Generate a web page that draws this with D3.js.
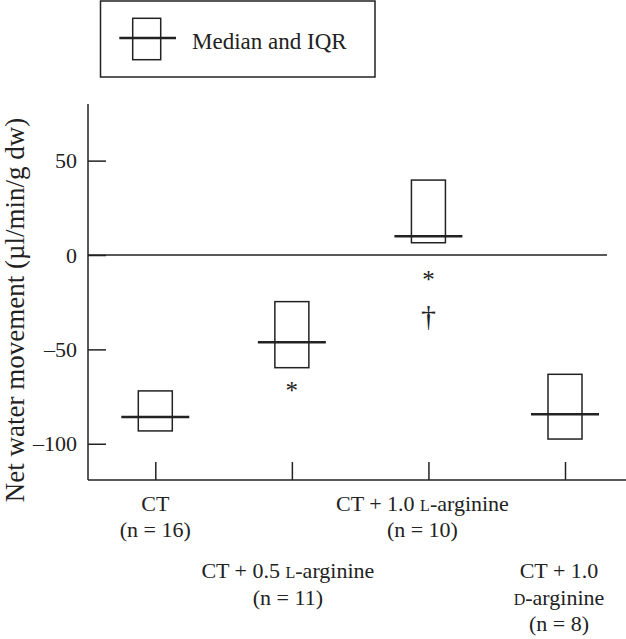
<!DOCTYPE html>
<html>
<head>
<meta charset="utf-8">
<script src="https://cdn.jsdelivr.net/npm/d3@7"></script>
<style>
  html, body { margin: 0; padding: 0; background: #fff; }
  svg, svg text, svg tspan { font-family: "Liberation Serif", "Times New Roman", serif; }
</style>
</head>
<body>
<div id="chart"></div>
<script>
// ---- data ----
const categories = ["CT", "CT + 0.5 L-arginine", "CT + 1.0 L-arginine", "CT + 1.0 D-arginine"];
const medians = [-85.8, -46.2, 9.9, -84.4];
const q1 = [-93.2, -59.7, 6.5, -97.5];
const q3 = [-72.0, -24.7, 39.7, -63.2];
const nValues = [16, 11, 10, 8];
const yTicks = [-100, -50, 0, 50];
const annotations = [
  { cat: 1, symbol: "*", value: -68.3 },
  { cat: 2, symbol: "*", value: -9.5 },
  { cat: 2, symbol: "\u2020", value: -33 }
];
const legendLabel = "Median and IQR";
const yLabel = "Net water movement (\u00b5l/min/g dw)";

// ---- layout ----
const W = 626, H = 639;
const FONT = "Liberation Serif, Times New Roman, serif";
const svg = d3.select("#chart").append("svg").attr("width", W).attr("height", H)
  .attr("font-family", FONT);
const ink = "#222";

const y = d3.scaleLinear().domain([-119.2, 80]).range([480, 104]);
const x = d3.scalePoint().domain(categories).range([155.3, 565]);
const axisX0 = 88;

// y axis
const yAxis = d3.axisRight(y).tickValues(yTicks).tickSize(18).tickFormat("");
const gy = svg.append("g").attr("transform", `translate(${axisX0},0)`).call(yAxis);
gy.select(".domain").remove();
gy.selectAll(".tick line").attr("stroke", ink).attr("stroke-width", 1.5);
svg.append("line").attr("x1", axisX0).attr("x2", axisX0).attr("y1", y.range()[1]).attr("y2", y.range()[0])
  .attr("stroke", ink).attr("stroke-width", 1.5);
svg.selectAll("text.ylab").data(yTicks).join("text").attr("class", "ylab")
  .attr("font-family", FONT)
  .attr("x", 77).attr("y", d => y(d)).attr("dy", "0.35em")
  .attr("text-anchor", "end").attr("font-size", 22).attr("fill", ink)
  .text(d => d < 0 ? "\u2013" + Math.abs(d) : String(d));

// x axis
const xAxis = d3.axisTop(x).tickSize(18).tickFormat("");
const gx = svg.append("g").attr("transform", `translate(0,${y.range()[0]})`).call(xAxis);
gx.select(".domain").remove();
gx.selectAll(".tick line").attr("stroke", ink).attr("stroke-width", 1.5);
svg.append("line").attr("x1", axisX0).attr("x2", W).attr("y1", y.range()[0]).attr("y2", y.range()[0])
  .attr("stroke", ink).attr("stroke-width", 1.5);

// zero line
svg.append("line").attr("x1", axisX0).attr("x2", 607).attr("y1", y(0)).attr("y2", y(0))
  .attr("stroke", ink).attr("stroke-width", 1.5);

// boxes
const boxW = 34, medW = 68;
const data = categories.map((c, i) => ({ c, med: medians[i], lo: q1[i], hi: q3[i] }));
svg.selectAll("rect.box").data(data).join("rect").attr("class", "box")
  .attr("x", d => x(d.c) - boxW / 2).attr("width", boxW)
  .attr("y", d => y(d.hi)).attr("height", d => y(d.lo) - y(d.hi))
  .attr("fill", "none").attr("stroke", ink).attr("stroke-width", 1.5);
svg.selectAll("line.med").data(data).join("line").attr("class", "med")
  .attr("x1", d => x(d.c) - medW / 2).attr("x2", d => x(d.c) + medW / 2)
  .attr("y1", d => y(d.med)).attr("y2", d => y(d.med))
  .attr("stroke", ink).attr("stroke-width", 2.5);

// annotations
svg.selectAll("text.ann").data(annotations).join("text").attr("class", "ann")
  .attr("font-family", FONT)
  .attr("x", d => x(categories[d.cat])).attr("y", d => y(d.value))
  .attr("dy", d => d.symbol === "*" ? "0.6em" : "0.3em")
  .attr("text-anchor", "middle").attr("fill", ink)
  .attr("font-size", d => d.symbol === "*" ? 25 : 30)
  .text(d => d.symbol);

// category labels
function addLabel(lines, cx, y0, lh) {
  lines.forEach((ln, k) => {
    const t = svg.append("text").attr("x", cx).attr("y", y0 + k * lh)
      .attr("font-family", FONT)
      .attr("text-anchor", "middle").attr("font-size", 22).attr("fill", ink);
    ln.forEach(seg => {
      const ts = t.append("tspan").text(seg.t);
      if (seg.sc) ts.attr("font-size", 16);
    });
  });
}
addLabel([[{ t: "CT" }], [{ t: `(n = ${nValues[0]})` }]], x(categories[0]), 511, 26);
addLabel([[{ t: "CT + 0.5 " }, { t: "L", sc: true }, { t: "-arginine" }], [{ t: `(n = ${nValues[1]})` }]], x(categories[1]) - 4, 578, 27);
addLabel([[{ t: "CT + 1.0 " }, { t: "L", sc: true }, { t: "-arginine" }], [{ t: `(n = ${nValues[2]})` }]], x(categories[2]) - 6, 511, 26);
addLabel([[{ t: "CT + 1.0" }], [{ t: "D", sc: true }, { t: "-arginine" }], [{ t: `(n = ${nValues[3]})` }]], x(categories[3]) - 6, 578, 26.5);

// y label
svg.append("text").attr("transform", "translate(24,310) rotate(-90)")
  .attr("font-family", FONT)
  .attr("text-anchor", "middle").attr("font-size", 27).attr("fill", ink).text(yLabel);

// legend
const lg = svg.append("g");
lg.append("rect").attr("x", 100.5).attr("y", 1).attr("width", 274.5).attr("height", 76)
  .attr("fill", "none").attr("stroke", ink).attr("stroke-width", 1.5);
lg.append("rect").attr("x", 132.7).attr("y", 18.3).attr("width", 28).attr("height", 41.4)
  .attr("fill", "none").attr("stroke", ink).attr("stroke-width", 1.5);
lg.append("line").attr("x1", 119.3).attr("x2", 176).attr("y1", 38).attr("y2", 38)
  .attr("stroke", ink).attr("stroke-width", 2.5);
lg.append("text").attr("x", 192).attr("y", 48.5)
  .attr("font-family", FONT)
  .attr("font-size", 23).attr("fill", ink).text(legendLabel);
</script>
</body>
</html>
